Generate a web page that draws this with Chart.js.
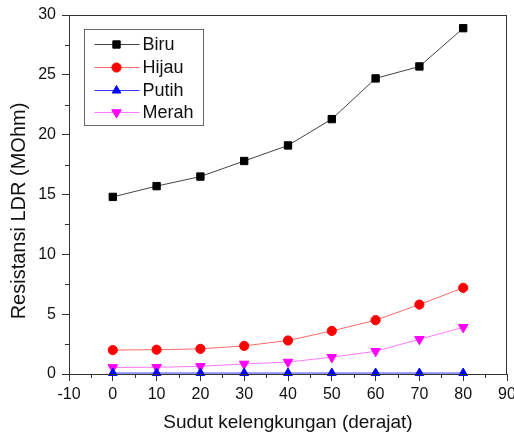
<!DOCTYPE html>
<html>
<head>
<meta charset="utf-8">
<script src="https://cdn.jsdelivr.net/npm/chart.js@4/dist/chart.umd.min.js"></script>
<style>
  html, body { margin: 0; padding: 0; background: #fff; }
  #wrap { width: 514px; height: 437px; }
</style>
</head>
<body>
<div id="wrap"><canvas id="c" width="514" height="437"></canvas></div>
<script>
// Data
const angles = [0, 10, 20, 30, 40, 50, 60, 70, 80];
const biru  = [14.8, 15.7, 16.5, 17.8, 19.1, 21.3, 24.7, 25.7, 28.9];
const hijau = [2.0, 2.03, 2.1, 2.35, 2.8, 3.6, 4.5, 5.8, 7.2];
const putih = [0.08, 0.08, 0.08, 0.08, 0.08, 0.08, 0.08, 0.08, 0.08];
const merah = [0.55, 0.56, 0.64, 0.84, 1.0, 1.4, 1.9, 2.9, 3.9];
const seriesLabels = ['Biru', 'Hijau', 'Putih', 'Merah'];
const xTitle = 'Sudut kelengkungan (derajat)';
const yTitle = 'Resistansi LDR (MOhm)';

const FONT = '"Liberation Sans", Arial, sans-serif';

function pts(vals) { return angles.map((a, i) => ({ x: a, y: vals[i] })); }

const datasets = [
  { label: seriesLabels[0], data: pts(biru), borderColor: '#444', backgroundColor: '#000',
    pointStyle: 'rect', pointRadius: 5.2, pointBorderColor: '#000', pointBackgroundColor: '#000' },
  { label: seriesLabels[1], data: pts(hijau), borderColor: '#ff6a6a', backgroundColor: '#ff0000',
    pointStyle: 'circle', pointRadius: 4.6, pointBorderColor: '#ff0000', pointBackgroundColor: '#ff0000' },
  { label: seriesLabels[2], data: pts(putih), borderColor: '#3a3aff', backgroundColor: '#0000ff',
    pointStyle: 'triangle', pointRadius: 5, pointBorderColor: '#0000ff', pointBackgroundColor: '#0000ff' },
  { label: seriesLabels[3], data: pts(merah), borderColor: '#ff7aff', backgroundColor: '#ff00ff',
    pointStyle: 'triangle', pointRotation: 180, pointRadius: 5.5, pointBorderColor: '#ff00ff', pointBackgroundColor: '#ff00ff' }
].map(d => Object.assign({ borderWidth: 1, pointBorderWidth: 1, tension: 0, fill: false, clip: false }, d));

const framePlugin = {
  id: 'frame',
  afterDraw(chart) {
    const { ctx, chartArea: a, scales } = chart;
    ctx.save();
    ctx.strokeStyle = '#333';
    ctx.lineWidth = 1;
    ctx.strokeRect(Math.round(a.left) + 0.5, Math.round(a.top) + 0.5,
                   Math.round(a.right - a.left) - 1, Math.round(a.bottom - a.top));
    // minor ticks
    ctx.beginPath();
    for (let v = -5; v < 90; v += 10) {
      const px = Math.round(scales.x.getPixelForValue(v)) + 0.5;
      ctx.moveTo(px, a.bottom); ctx.lineTo(px, a.bottom + 4);
    }
    for (let v = 2.5; v < 30; v += 5) {
      const py = Math.round(scales.y.getPixelForValue(v)) + 0.5;
      ctx.moveTo(a.left, py); ctx.lineTo(a.left - 4, py);
    }
    ctx.stroke();

    // y-axis title (placed like the reference, slightly below the axis centre)
    ctx.save();
    ctx.translate(19, 211);
    ctx.rotate(-Math.PI / 2);
    ctx.fillStyle = '#111';
    ctx.font = '20px ' + FONT;
    ctx.textAlign = 'center';
    ctx.textBaseline = 'middle';
    ctx.fillText(yTitle, 0, 0);
    ctx.restore();

    // legend box
    const bx = a.left + 15.5, by = a.top + 14.5, bw = 119, bh = 96;
    ctx.strokeStyle = '#666';
    ctx.strokeRect(bx, by, bw, bh);
    const rowY = [by + 14, by + 37, by + 60, by + 82];
    chart.data.datasets.forEach((ds, i) => {
      const y = Math.round(rowY[i]) + 0.5;
      ctx.strokeStyle = ds.borderColor;
      ctx.lineWidth = 1;
      ctx.beginPath();
      ctx.moveTo(bx + 10, y); ctx.lineTo(bx + 55, y);
      ctx.stroke();
      ctx.fillStyle = ds.pointBackgroundColor;
      ctx.strokeStyle = ds.pointBorderColor;
      Chart.helpers.drawPoint(ctx, {
        pointStyle: ds.pointStyle, radius: ds.pointRadius, rotation: ds.pointRotation || 0, borderWidth: 1
      }, bx + 32, y);
      ctx.fillStyle = '#111';
      ctx.font = '18px ' + FONT;
      ctx.textAlign = 'left';
      ctx.textBaseline = 'middle';
      ctx.fillText(ds.label, bx + 58, y + 1);
    });
    ctx.restore();
  }
};

new Chart(document.getElementById('c'), {
  type: 'line',
  data: { datasets },
  plugins: [framePlugin],
  options: {
    responsive: false,
    animation: false,
    devicePixelRatio: 1,
    layout: { padding: { left: 0, top: 15, right: 7, bottom: 0 } },
    plugins: { legend: { display: false }, tooltip: { enabled: false } },
    scales: {
      x: {
        type: 'linear', min: -10, max: 90,
        ticks: { stepSize: 10, color: '#111', font: { family: FONT, size: 16 }, padding: 4, maxRotation: 0, autoSkip: false },
        grid: { drawOnChartArea: false, drawTicks: true, tickLength: 7, tickColor: '#333', color: '#333' },
        border: { display: true, color: '#333', width: 1 },
        title: { display: true, text: xTitle, color: '#111', font: { family: FONT, size: 19 }, padding: { top: 0, bottom: 3 } },
        afterFit(s) { s.height = 63; s.paddingLeft = 0; s.paddingRight = 0; }
      },
      y: {
        type: 'linear', min: 0, max: 30,
        ticks: { stepSize: 5, color: '#111', font: { family: FONT, size: 16 }, padding: 6 },
        grid: { drawOnChartArea: false, drawTicks: true, tickLength: 7, tickColor: '#333', color: '#333' },
        border: { display: true, color: '#333', width: 1 },
        title: { display: false, text: yTitle },
        afterFit(s) { s.width = 69; s.paddingTop = 0; s.paddingBottom = 0; }
      }
    }
  }
});
</script>
</body>
</html>
